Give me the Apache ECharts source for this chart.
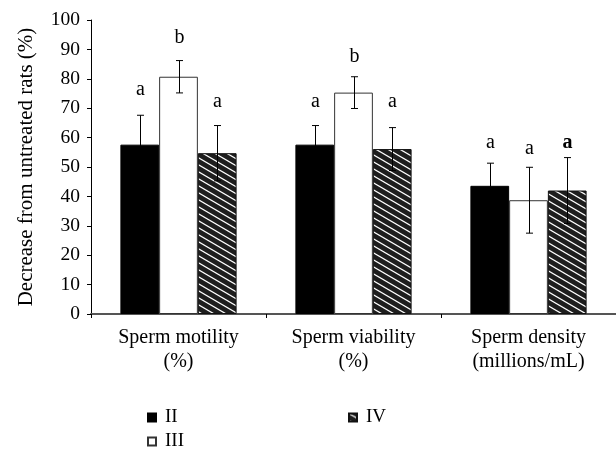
<!DOCTYPE html>
<html>
<head>
<meta charset="utf-8">
<script src="https://cdn.jsdelivr.net/npm/echarts@6/dist/echarts.min.js"></script>
<style>html,body{margin:0;padding:0;background:#fff;}#c{width:616px;height:454px;}</style>
</head>
<body>
<div id="c"></div>
<script>
const categories = ['Sperm motility\n(%)', 'Sperm viability\n(%)', 'Sperm density\n(millions/mL)'];
const seriesNames = ['II', 'III', 'IV'];
const valuesII = [57.6, 57.6, 43.6];
const valuesIII = [80.7, 75.3, 38.7];
const valuesIV = [54.7, 56.1, 42.0];
const errII = [10.0, 6.5, 7.7];
const errIII = [5.5, 5.4, 11.2];
const errIV = [9.4, 7.3, 11.2];
const lettersII = ['a', 'a', 'a'];
const lettersIII = ['b', 'b', 'a'];
const lettersIV = ['a', 'a', 'a'];
const letterLevelII = [76.2, 72.3, 58.3];
const letterLevelIII = [93.9, 87.5, 56.2];
const letterLevelIV = [72.3, 72.3, 58.3];
const yTicks = [0, 10, 20, 30, 40, 50, 60, 70, 80, 90, 100];

const FONT = '"Liberation Serif", "DejaVu Serif", serif';
const GAP = 0.336;

function hatchPattern() {
  const w = 12, h = 7;
  const c = document.createElement('canvas');
  c.width = w; c.height = h;
  const ctx = c.getContext('2d');
  ctx.fillStyle = '#1e1e1e';
  ctx.fillRect(0, 0, w, h);
  ctx.strokeStyle = '#ffffff';
  ctx.lineWidth = 1.2;
  for (const dy of [-h, 0, h]) {
    ctx.beginPath();
    ctx.moveTo(-2, dy - 2 * h / w);
    ctx.lineTo(w + 2, dy + h + 2 * h / w);
    ctx.stroke();
  }
  return c;
}

const allVals = [valuesII, valuesIII, valuesIV];
const allErr = [errII, errIII, errIV];
const allLetters = [lettersII, lettersIII, lettersIV];
const allLevels = [letterLevelII, letterLevelIII, letterLevelIV];

const annData = [];
for (let s = 0; s < 3; s++) {
  for (let c = 0; c < categories.length; c++) {
    annData.push([c, s, allVals[s][c], allErr[s][c], allLevels[s][c], allLetters[s][c]]);
  }
}

const styles = [
  {color: '#000000', borderColor: '#000000', borderWidth: 1},
  {color: '#ffffff', borderColor: '#333333', borderWidth: 1},
  {color: {image: hatchPattern(), repeat: 'repeat'}, borderColor: '#111111', borderWidth: 1}
];

const chart = echarts.init(document.getElementById('c'), null, {renderer: 'canvas'});
const barSeries = seriesNames.map((n, i) => ({
  name: n,
  type: 'bar',
  data: allVals[i],
  barGap: '0%',
  barCategoryGap: (GAP * 100) + '%',
  itemStyle: styles[i],
  z: 2
}));

function legendAt(name, left, top) {
  return {data: [name], orient: 'horizontal', left: left, top: top, itemWidth: 8, itemHeight: 8, icon: 'rect',
    padding: 0, textStyle: {fontFamily: FONT, fontSize: 19, color: '#000', padding: [0, 0, 0, 4]}, selectedMode: false};
}

chart.setOption({
  animation: false,
  backgroundColor: '#ffffff',
  grid: {left: 91, right: 0, top: 20, bottom: 140, containLabel: false},
  legend: [
    legendAt('II', 147, 408),
    legendAt('III', 147, 432),
    legendAt('IV', 348, 408)
  ],
  xAxis: {
    type: 'category',
    data: categories,
    axisLine: {lineStyle: {color: '#555555', width: 2}},
    axisTick: {show: true, alignWithLabel: false, length: 4, inside: false, lineStyle: {color: '#000'}},
    axisLabel: {fontFamily: FONT, fontSize: 20, color: '#000', margin: 12, lineHeight: 24, interval: 0}
  },
  yAxis: {
    type: 'value',
    min: yTicks[0], max: yTicks[yTicks.length - 1], interval: 10,
    name: 'Decrease from untreated rats (%)',
    nameLocation: 'middle',
    nameGap: 54,
    nameTextStyle: {fontFamily: FONT, fontSize: 21, color: '#000'},
    axisLine: {show: true, lineStyle: {color: '#000', width: 1}},
    axisTick: {show: true, length: 4, lineStyle: {color: '#000'}},
    splitLine: {show: false},
    axisLabel: {fontFamily: FONT, fontSize: 19.5, color: '#000', margin: 11}
  },
  series: barSeries.concat([{
    type: 'custom',
    name: 'annotations',
    z: 5,
    data: annData,
    renderItem: function (params, api) {
      const cat = api.value(0), s = api.value(1), v = api.value(2), e = api.value(3), lvl = api.value(4);
      const letter = annData[params.dataIndex][5];
      const band = api.size([1, 0])[0];
      const bw = band * (1 - GAP) / 3;
      const center = api.coord([cat, 0])[0];
      const x = Math.round(center + (s - 1) * bw) + 0.5;
      const yt = api.coord([cat, v + e])[1];
      const yb = api.coord([cat, v - e])[1];
      const yl = api.coord([cat, lvl])[1];
      const cap = 3.5;
      const bold = (cat === 2 && s === 2);
      return {
        type: 'group',
        children: [
          {type: 'line', shape: {x1: x, y1: yt, x2: x, y2: yb}, style: {stroke: '#000', lineWidth: 1}},
          {type: 'line', shape: {x1: x - cap, y1: yt, x2: x + cap, y2: yt}, style: {stroke: '#000', lineWidth: 1}},
          {type: 'line', shape: {x1: x - cap, y1: yb, x2: x + cap, y2: yb}, style: {stroke: '#000', lineWidth: 1}},
          {type: 'text', x: x, y: yl, style: {text: letter, fontFamily: FONT, fontSize: 20, fontWeight: bold ? 'bold' : 'normal',
            fill: '#000', align: 'center', verticalAlign: 'middle'}}
        ]
      };
    }
  }])
});
</script>
</body>
</html>
